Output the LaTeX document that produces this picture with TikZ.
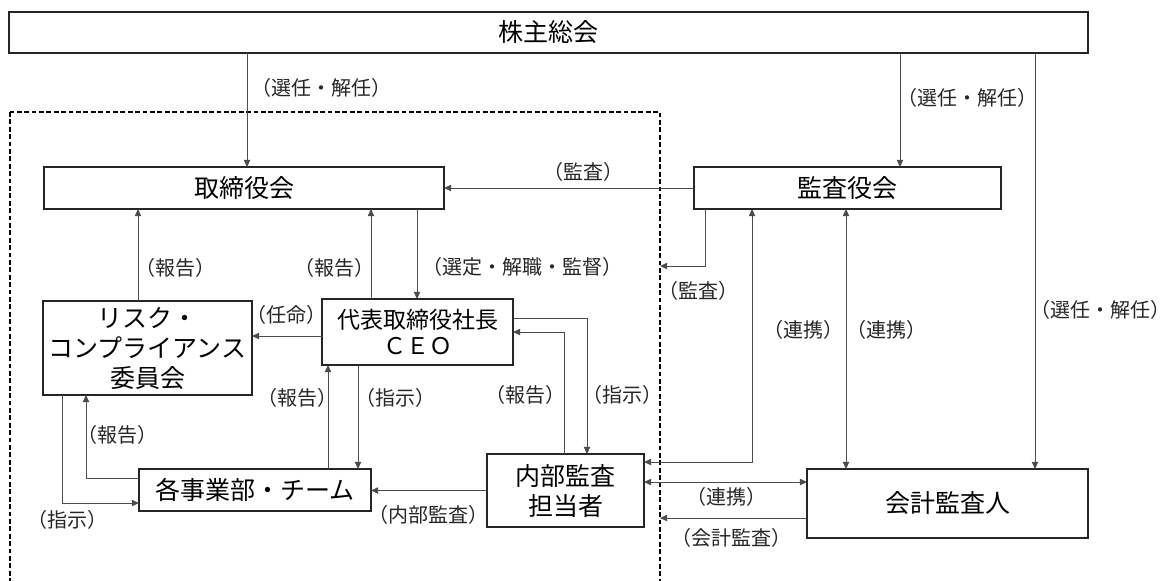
\documentclass[tikz,border=0pt]{standalone}
\usepackage{fontspec}
\setmainfont{Noto Sans CJK JP}
\usetikzlibrary{arrows.meta}

\begin{document}
\begin{tikzpicture}[x=0.5pt, y=-0.5pt,
    box/.style={draw=black!85, line width=0.6pt, inner sep=0pt, outer sep=0pt,
      align=center, font=\fontsize{12.5}{15}\selectfont},
    lbl/.style={inner sep=0pt, font=\fontsize{10}{12}\selectfont, black!85},
    arr/.style={-{Triangle[length=3.6pt,width=3.2pt]}, line width=0.5pt, black!70},
    dbl/.style={{Triangle[length=3.6pt,width=3.2pt]}-{Triangle[length=3.6pt,width=3.2pt]},
      line width=0.5pt, black!70},
    dashframe/.style={dash pattern=on 2.4pt off 1.3pt, line width=0.6pt}]
  \useasboundingbox (0,0) rectangle (1160,580);
  \draw[dashframe] (10,112) rectangle (660,600);
  \coordinate (fr) at (660,112);
  \node[box, minimum width=539.5pt, minimum height=20.5pt] (gm) at (548.5,32.5) {株主総会};
  \node[box, minimum width=200pt, minimum height=21pt] (board) at (244,188) {取締役会};
  \node[box, minimum width=153.5pt, minimum height=21pt] (kansa) at (847.5,188) {監査役会};
  \node[box, minimum width=104.5pt, minimum height=47pt] (risk) at (147.5,348)
    {リスク・\\コンプライアンス\\委員会};
  \node[box, minimum width=95.5pt, minimum height=33pt, font=\fontsize{11.5}{13}\selectfont]
    (ceo) at (417.5,332) {代表取締役社長\\ＣＥＯ};
  \node[box, minimum width=116pt, minimum height=21pt] (dept) at (255,490) {各事業部・チーム};
  \node[box, minimum width=78.5pt, minimum height=36.5pt] (audit) at (565.5,490.5) {内部監査\\担当者};
  \node[box, minimum width=140.5pt, minimum height=34.5pt] (acct) at (947.5,503.5) {会計監査人};
  \draw[arr] (247,0 |- gm.south) -- (247,0 |- board.north);
  \draw[arr] (900,0 |- gm.south) -- (900,0 |- kansa.north);
  \draw[arr] (1035,0 |- gm.south) -- (1035,0 |- acct.north);
  \draw[arr] (kansa.west) -- (board.east);
  \draw[arr] (705,0 |- kansa.south) |- (fr |- 0,266);
  \draw[arr] (138,0 |- risk.north) -- (138,0 |- board.south);
  \draw[arr] (371,0 |- ceo.north) -- (371,0 |- board.south);
  \draw[arr] (417,0 |- board.south) -- (417,0 |- ceo.north);
  \draw[arr] (ceo.west |- 0,336) -- (risk.east |- 0,336);
  \draw[arr] (ceo.east |- 0,318) -| (587,0 |- audit.north);
  \draw[arr] (564,0 |- audit.north) |- (ceo.east |- 0,332);
  \draw[arr] (328,0 |- dept.north) -- (328,0 |- ceo.south);
  \draw[arr] (358,0 |- ceo.south) -- (358,0 |- dept.north);
  \draw[arr] (62,0 |- risk.south) |- (dept.west |- 0,503);
  \draw[arr] (dept.west |- 0,478) -| (86,0 |- risk.south);
  \draw[arr] (audit.west) -- (audit.west -| dept.east);
  \draw[dbl] (752,0 |- kansa.south) |- (audit.east |- 0,462);
  \draw[dbl] (846,0 |- kansa.south) -- (846,0 |- acct.north);
  \draw[dbl] (audit.east |- 0,482) -- (acct.west |- 0,482);
  \draw[arr] (acct.west |- 0,518) -- (fr |- 0,518);
  \foreach \n/\x/\y/\t in {selB/321/88/（選任・解任）, selK/967/98/（選任・解任）,
      selA/1100/310/\kern-0.45em（選任・解任）\kern-0.45em, audB/583/172/（監査）,
      audF/698/291/（監査）, repR/175/268/（報告）, repC/334/268/（報告）,
      supC/522/267/（選定・解職・監督）, appR/286/315/（任命）, repI/525/395/（報告）,
      insI/622/395/（指示）, repD/297/398/（報告）, insD/395/398/（指示）,
      repRD/117/435/（報告）, insRD/67/520/（指示）, audD/428/515/（内部監査）,
      linK/803/330/（連携）, linKA/886/330/（連携）, linIA/726/497/（連携）,
      audA/731/538/（会計監査）}
    \node[lbl] (\n) at (\x,\y) {\t};
\end{tikzpicture}
\end{document}
